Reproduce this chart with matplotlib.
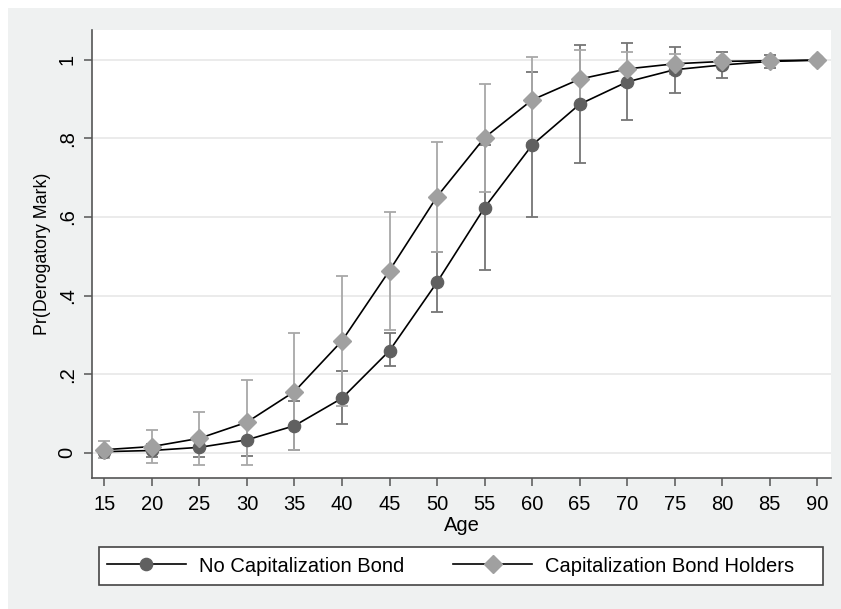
import numpy as np
import matplotlib
matplotlib.use("Agg")
import matplotlib.pyplot as plt
from matplotlib.lines import Line2D
from matplotlib.patches import Rectangle

plt.rcParams['font.family'] = ['Liberation Sans', 'DejaVu Sans']

# valores
ages = [15, 20, 25, 30, 35, 40, 45, 50, 55, 60, 65, 70, 75, 80, 85, 90]

no_cap = [0.003, 0.006, 0.014, 0.033, 0.069, 0.139, 0.260, 0.434,
          0.624, 0.783, 0.887, 0.944, 0.975, 0.987, 0.996, 0.999]
no_cap_lo = [-0.004, -0.010, -0.011, -0.009, 0.006, 0.073, 0.220, 0.358,
             0.465, 0.599, 0.737, 0.847, 0.915, 0.955, 0.979, 0.997]
no_cap_hi = [0.010, 0.022, 0.039, 0.075, 0.132, 0.209, 0.305, 0.512,
             0.783, 0.968, 1.037, 1.044, 1.034, 1.020, 1.013, 1.001]

cap = [0.008, 0.016, 0.037, 0.078, 0.156, 0.285, 0.464, 0.652,
       0.802, 0.898, 0.951, 0.977, 0.990, 0.996, 0.998, 0.9995]
cap_lo = [-0.013, -0.025, -0.031, -0.030, 0.008, 0.120, 0.313, 0.512,
          0.665, 0.789, 0.877, 0.933, 0.965, 0.986, 0.993, 0.998]
cap_hi = [0.029, 0.057, 0.105, 0.186, 0.304, 0.450, 0.612, 0.792,
          0.939, 1.007, 1.025, 1.021, 1.015, 1.006, 1.003, 1.001]

y_ticks = [0, 0.2, 0.4, 0.6, 0.8, 1]
y_ticklabels = ['0', '.2', '.4', '.6', '.8', '1']

dark = '#606060'
light = '#a0a0a0'
bg = '#eff1f1'
fs = 14.5

fig = plt.figure(figsize=(8.41, 6.09), dpi=100, facecolor='white')
fig.patches.append(Rectangle((8/841, 0), 1, 1 - 8/609, transform=fig.transFigure,
                             facecolor=bg, edgecolor='none', zorder=-10))
# marco de la leyenda
fig.patches.append(Rectangle((99/841, (609-585)/609), 724/841, 38/609, transform=fig.transFigure,
                             facecolor='white', edgecolor='#444444', lw=1.2, zorder=-5))

ax = fig.add_axes([92/841, (609-478)/609, (831-92)/841, (478-30)/609])
ax.set_facecolor('white')

# barras de error (intervalos)
no_cap_err = [np.array(no_cap) - np.array(no_cap_lo), np.array(no_cap_hi) - np.array(no_cap)]
cap_err = [np.array(cap) - np.array(cap_lo), np.array(cap_hi) - np.array(cap)]
ax.errorbar(ages, no_cap, yerr=no_cap_err, fmt='none', ecolor='#757575',
            elinewidth=1.3, capsize=4.5, capthick=1.3, zorder=2)
ax.errorbar(ages, cap, yerr=cap_err, fmt='none', ecolor='#a8a8a8',
            elinewidth=1.3, capsize=4.5, capthick=1.3, zorder=2)

ax.plot(ages, no_cap, color='black', lw=1.2, marker='o', markersize=8.8,
        markerfacecolor=dark, markeredgecolor=dark, zorder=3)
ax.plot(ages, cap, color='black', lw=1.2, marker='D', markersize=9.5,
        markerfacecolor=light, markeredgecolor=light, zorder=4)

ax.set_xlim(13.7, 91.45)
ax.set_ylim(-0.064, 1.076)
ax.set_xticks(ages)
ax.set_yticks(y_ticks)
ax.set_yticklabels(y_ticklabels, rotation=90, va='center')
ax.grid(axis='y', color='#e8e8e8', lw=1.2)
ax.set_axisbelow(True)

for s in ['top', 'right']:
    ax.spines[s].set_visible(False)
for s in ['left', 'bottom']:
    ax.spines[s].set_color('#555555')
    ax.spines[s].set_linewidth(1.2)
ax.tick_params(direction='out', length=6, width=1.1, color='#555555', labelsize=fs)
ax.tick_params(axis='x', pad=6)
ax.tick_params(axis='y', pad=5)

ax.set_xlabel('Age', fontsize=fs, labelpad=2)
ax.set_ylabel('Pr(Derogatory Mark)', fontsize=12.8, labelpad=5)

handles = [Line2D([], [], color='black', lw=1.2, marker='o', markersize=8.8,
                  markerfacecolor=dark, markeredgecolor=dark),
           Line2D([], [], color='black', lw=1.2, marker='D', markersize=9.5,
                  markerfacecolor=light, markeredgecolor=light)]
leg = fig.legend(handles, ['No Capitalization Bond', 'Capitalization Bond Holders'],
                 ncol=2, loc='center left',
                 bbox_to_anchor=(100/841, (609-566)/609),
                 fontsize=fs, handlelength=3.9, handletextpad=0.65, columnspacing=2.45,
                 frameon=False, borderpad=0.35, borderaxespad=0)

fig.savefig('out.png', dpi=100, facecolor=fig.get_facecolor())
